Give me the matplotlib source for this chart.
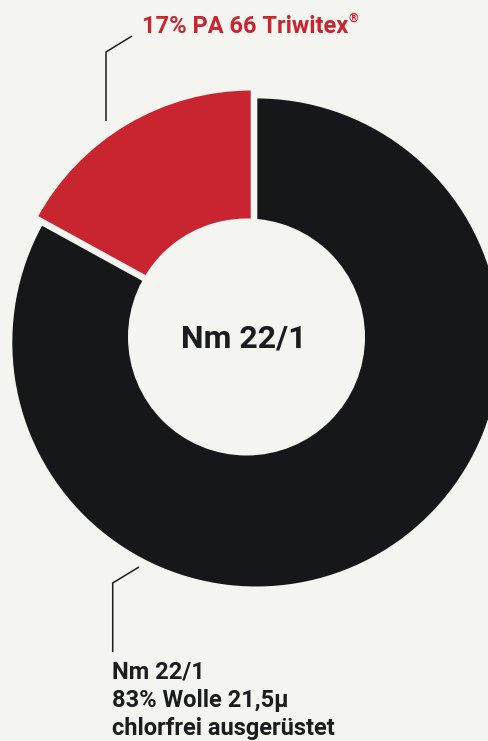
import matplotlib
matplotlib.use("Agg")
import matplotlib.pyplot as plt
from matplotlib.patches import Circle

# === data ===
labels = ["PA 66 Triwitex", "Wolle 21,5µ"]
shares = [17, 83]
colors = ["#c82530", "#161719"]
center_title = "Nm 22/1"
top_label = "17% PA 66 Triwitex"
bottom_lines = ["Nm 22/1", "83% Wolle 21,5µ", "chlorfrei ausgerüstet"]

W, H = 488, 741
BG = "#f4f4f0"
DARK = "#1b1c1d"
FONT = ["Roboto", "DejaVu Sans"]

fig = plt.figure(figsize=(W / 100, H / 100), dpi=100, facecolor=BG)
ax = fig.add_axes([0, 0, 1, 1])
ax.set_facecolor(BG)

# donut: two wedges pulled apart a little + hole
# (pie's explode is in data units here, i.e. pixels)
ax.pie(shares, colors=colors, startangle=90, counterclock=True,
       center=(254, H - 338.5), radius=245, explode=[4.6, 4.6],
       wedgeprops=dict(edgecolor=BG, linewidth=1.4))
ax.add_patch(Circle((246.5, H - 337), 118.5, facecolor=BG, edgecolor="none", zorder=3))

ax.set_xlim(0, W)
ax.set_ylim(0, H)
ax.set_aspect("equal")
ax.axis("off")

ax.text(244, H - 339, center_title, ha="center", va="center", fontsize=23,
        fontweight="bold", color=DARK, family=FONT, zorder=4)

# leader lines
ax.plot([132, 106, 106], [H - 36, H - 52, H - 121], color=DARK, lw=1.1, solid_capstyle="butt")
ax.plot([139, 112.7, 112.7], [H - 567, H - 583, H - 652], color=DARK, lw=1.1, solid_capstyle="butt")

# top label with small raised ®
t = ax.text(141.5, H - 33, top_label, ha="left", va="baseline", fontsize=17,
            fontweight="bold", color=colors[0], family=FONT)
fig.canvas.draw()
bb = t.get_window_extent()
ax.text(bb.x1 + 1, H - 22, "®", ha="left", va="baseline", fontsize=9,
        fontweight="bold", color=colors[0], family=FONT)

for i, line in enumerate(bottom_lines):
    ax.text(112.5, H - (679 + 28 * i), line, ha="left", va="baseline", fontsize=17,
            fontweight="bold", color=DARK, family=FONT)

fig.savefig("out.png", dpi=100, facecolor=BG)
